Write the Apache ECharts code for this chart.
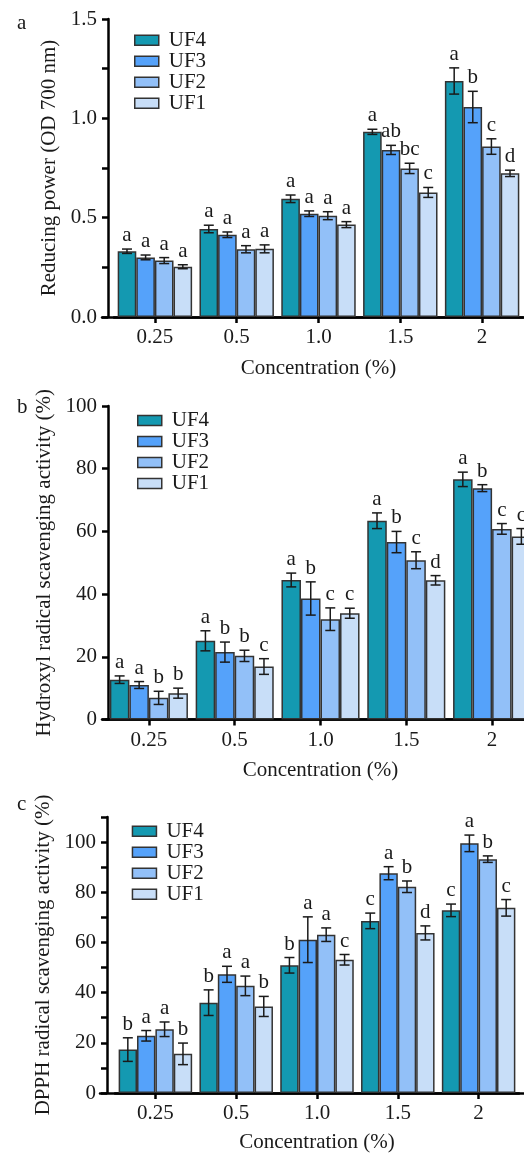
<!DOCTYPE html>
<html>
<head>
<meta charset="utf-8">
<script src="https://cdn.jsdelivr.net/npm/echarts@6/dist/echarts.min.js"></script>
<style>
html,body{margin:0;padding:0;background:#fff;}
#chart{width:524px;height:1153px;}
</style>
</head>
<body>
<div id="chart"></div>
<script>
// ---------- data ----------
const categories = ['0.25', '0.5', '1.0', '1.5', '2'];
const fractions = ['UF4', 'UF3', 'UF2', 'UF1'];
const fractionColors = ['#1499B1', '#55A2FA', '#92C0F8', '#C8DEF8'];

// (a) reducing power, OD 700 nm  (rows: UF4, UF3, UF2, UF1)
const reducingMeans = [
  [0.331, 0.443, 0.595, 0.932, 1.188],
  [0.300, 0.414, 0.520, 0.841, 1.057],
  [0.284, 0.341, 0.510, 0.748, 0.858],
  [0.253, 0.343, 0.465, 0.627, 0.723]
];
const reducingErr = [
  [0.011, 0.019, 0.019, 0.013, 0.066],
  [0.012, 0.014, 0.014, 0.023, 0.079],
  [0.015, 0.018, 0.020, 0.026, 0.039],
  [0.010, 0.020, 0.015, 0.025, 0.016]
];
const reducingLetters = [
  ['a', 'a', 'a', 'a', 'a'],
  ['a', 'a', 'a', 'ab', 'b'],
  ['a', 'a', 'a', 'bc', 'c'],
  ['a', 'a', 'a', 'c', 'd']
];

// (b) hydroxyl radical scavenging activity (%)
const hydroxylMeans = [
  [12.7, 25.1, 44.5, 63.4, 76.6],
  [11.0, 21.5, 38.6, 56.6, 73.8],
  [6.9, 20.3, 32.0, 50.8, 60.8],
  [8.4, 16.9, 33.9, 44.4, 58.4]
];
const hydroxylErr = [
  [1.2, 3.2, 2.2, 2.5, 2.3],
  [1.1, 3.2, 5.3, 3.4, 1.1],
  [2.1, 1.8, 3.6, 2.7, 1.7],
  [1.6, 2.5, 1.6, 1.5, 2.5]
];
const hydroxylLetters = [
  ['a', 'a', 'a', 'a', 'a'],
  ['a', 'b', 'b', 'b', 'b'],
  ['b', 'b', 'c', 'c', 'c'],
  ['b', 'c', 'c', 'd', 'c']
];

// (c) DPPH radical scavenging activity (%)
const dpphMeans = [
  [17.3, 36.0, 50.9, 68.6, 72.8],
  [22.8, 47.3, 61.1, 87.6, 99.5],
  [25.4, 42.7, 63.1, 82.2, 93.2],
  [15.6, 34.5, 53.1, 63.8, 73.8]
];
const dpphErr = [
  [4.7, 5.1, 3.1, 3.1, 2.5],
  [2.1, 3.2, 9.1, 2.6, 3.3],
  [2.9, 3.9, 2.7, 2.3, 1.3],
  [4.3, 4.0, 2.1, 2.8, 3.3]
];
const dpphLetters = [
  ['b', 'b', 'b', 'c', 'c'],
  ['a', 'a', 'a', 'a', 'a'],
  ['a', 'a', 'a', 'b', 'b'],
  ['b', 'b', 'c', 'd', 'c']
];

const panelLabels = ['a', 'b', 'c'];
const yTitles = ['Reducing power (OD 700 nm)', 'Hydroxyl radical scavenging activity (%)', 'DPPH radical scavenging activity (%)'];
const xTitle = 'Concentration (%)';

// ---------- layout ----------
const FONT = '"Liberation Serif", "Times New Roman", serif';
const FS = 21;
const GAP = 0.09;
const LH = 18.6;
const panels = [
  { means: reducingMeans, err: reducingErr, letters: reducingLetters,
    top: 19, height: 298, left: 114, width: 409, yOffset: 6, lineLeft: 102,
    min: 0, max: 1.5, interval: 0.5, minor: true, fmt: v => v.toFixed(1),
    yNameGap: 48, xNameGap: 41, legendLeft: 134, legendTop: 39 - LH / 2, labelTop: 8 },
  { means: hydroxylMeans, err: hydroxylErr, letters: hydroxylLetters,
    top: 406, height: 313.5, left: 106, width: 429, yOffset: -2, lineLeft: 102,
    min: 0, max: 100, interval: 20, minor: false, fmt: v => String(v),
    yNameGap: 49, xNameGap: 40, legendLeft: 137, legendTop: 419.3 - LH / 2, labelTop: 392 },
  { means: dpphMeans, err: dpphErr, letters: dpphLetters,
    top: 817, height: 276, left: 115, width: 404, yOffset: 8, lineLeft: 100,
    min: 0, max: 110, interval: 20, minor: true, fmt: v => (v > 100 ? '' : String(v)),
    yNameGap: 49.5, xNameGap: 39, legendLeft: 131.7, legendTop: 830 - LH / 2, labelTop: 789 }
];

const grid = [], xAxis = [], yAxis = [], series = [], legend = [], title = [];

panels.forEach((p, pi) => {
  const g = pi * 2;
  grid.push({ left: p.left, top: p.top, width: p.width, height: p.height, containLabel: false, outerBoundsMode: 'none' });
  grid.push({ left: p.lineLeft, top: p.top, width: 600, height: p.height, containLabel: false, outerBoundsMode: 'none' });

  xAxis.push({
    type: 'category', gridIndex: g, data: categories,
    axisLine: { show: true, lineStyle: { color: '#000', width: 2.5 } },
    axisTick: { show: true, alignWithLabel: true, length: 6, lineStyle: { color: '#000', width: 2.5 } },
    axisLabel: { fontFamily: FONT, fontSize: FS, color: '#1a1a1a', margin: 10 },
    name: xTitle, nameLocation: 'middle', nameGap: p.xNameGap,
    nameTextStyle: { fontFamily: FONT, fontSize: FS, color: '#1a1a1a' }
  });
  xAxis.push({
    type: 'value', gridIndex: g + 1, min: 0, max: 1,
    axisLine: { show: true, onZero: false, lineStyle: { color: '#000', width: 2.5 } },
    axisTick: { show: false }, axisLabel: { show: false }, splitLine: { show: false }
  });

  yAxis.push({
    type: 'value', gridIndex: g, min: p.min, max: p.max, interval: p.interval,
    offset: p.yOffset,
    axisLine: { show: true, lineStyle: { color: '#000', width: 2.5 } },
    axisTick: { show: true, length: 6, lineStyle: { color: '#000', width: 2.5 } },
    minorTick: { show: p.minor, splitNumber: 2, length: 6, lineStyle: { color: '#000', width: 2.5 } },
    splitLine: { show: false },
    axisLabel: { fontFamily: FONT, fontSize: FS, color: '#1a1a1a', margin: 11, formatter: p.fmt },
    name: yTitles[pi], nameLocation: 'middle', nameGap: p.yNameGap,
    nameTextStyle: { fontFamily: FONT, fontSize: FS, color: '#1a1a1a' }
  });
  yAxis.push({ type: 'value', gridIndex: g + 1, show: false, min: 0, max: 1 });

  fractions.forEach((name, k) => {
    series.push({
      type: 'bar', name: name, xAxisIndex: g, yAxisIndex: g,
      data: p.means[k], barGap: '0%', barCategoryGap: (GAP * 100) + '%',
      itemStyle: { color: fractionColors[k], borderColor: '#333', borderWidth: 1.5 },
      z: 2
    });
  });

  const errData = [], errLetters = [];
  fractions.forEach((name, k) => {
    categories.forEach((c, ci) => {
      errData.push([ci, k, p.means[k][ci], p.err[k][ci]]);
      errLetters.push(p.letters[k][ci]);
    });
  });
  series.push({
    type: 'custom', name: 'err' + pi, xAxisIndex: g, yAxisIndex: g, z: 5,
    data: errData, silent: true, clip: false,
    renderItem: function (params, api) {
      const ci = api.value(0), k = api.value(1), v = api.value(2), e = api.value(3);
      const band = api.size([1, 0])[0];
      const barW = band * (1 - GAP) / 4;
      const cx = api.coord([ci, v])[0] + (k - 1.5) * barW;
      const yT = api.coord([ci, v + e])[1];
      const yB = api.coord([ci, v - e])[1];
      const cap = 5;
      const st = { stroke: '#1a1a1a', lineWidth: 1.5 };
      return {
        type: 'group',
        children: [
          { type: 'line', shape: { x1: cx, y1: yT, x2: cx, y2: yB }, style: st },
          { type: 'line', shape: { x1: cx - cap, y1: yT, x2: cx + cap, y2: yT }, style: st },
          { type: 'line', shape: { x1: cx - cap, y1: yB, x2: cx + cap, y2: yB }, style: st },
          { type: 'text', x: cx, y: yT - 3,
            style: { text: errLetters[params.dataIndex], fill: '#1a1a1a', font: FS + 'px ' + FONT,
                     align: 'center', verticalAlign: 'bottom' } }
        ]
      };
    }
  });

  legend.push({
    data: fractions, orient: 'vertical', left: p.legendLeft, top: p.legendTop,
    padding: 0, itemWidth: 24, itemHeight: 10, itemGap: 0, selectedMode: false,
    icon: 'rect',
    itemStyle: { borderColor: '#333', borderWidth: 1.5 },
    textStyle: { fontFamily: FONT, fontSize: FS, color: '#1a1a1a', lineHeight: LH, padding: [0, 0, 0, 5] }
  });

  title.push({
    text: panelLabels[pi], left: 12, top: p.labelTop,
    textStyle: { fontFamily: FONT, fontSize: FS, fontWeight: 'normal', color: '#1a1a1a' }
  });
});

const chart = echarts.init(document.getElementById('chart'), null, { renderer: 'canvas' });
chart.setOption({
  animation: false,
  backgroundColor: '#fff',
  title: title,
  legend: legend,
  grid: grid,
  xAxis: xAxis,
  yAxis: yAxis,
  series: series
});
</script>
</body>
</html>
